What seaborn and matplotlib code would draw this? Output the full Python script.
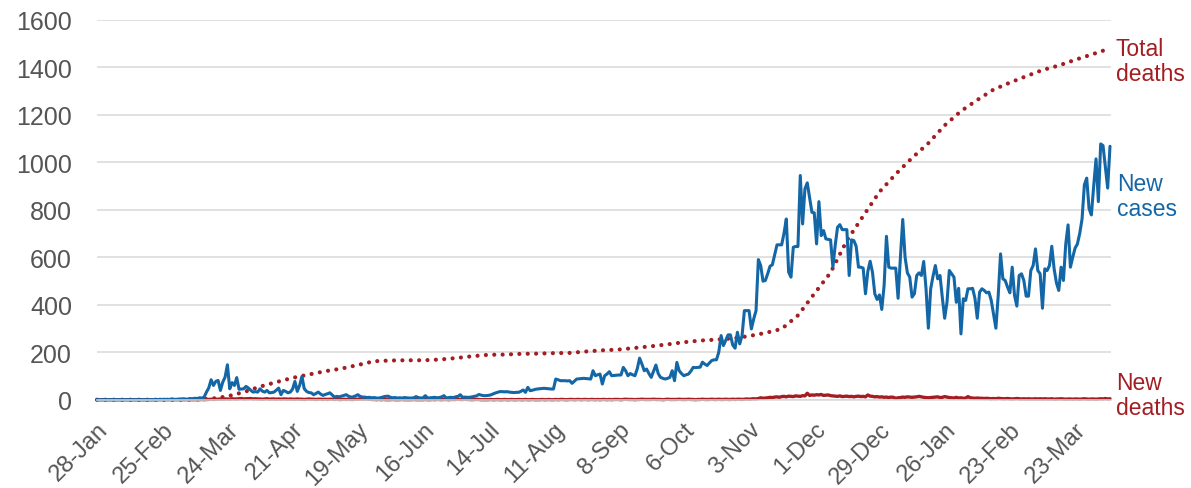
import pandas as pd
import matplotlib
matplotlib.use("Agg")
import matplotlib.pyplot as plt
import seaborn as sns

# daily new cases, from 28-Jan-2020 (14 values per row)
new_cases = [
    0, 0, 0, 0, 0, 0, 0, 0, 0, 0, 0, 0, 0, 0,
    0, 0, 0, 0, 0, 0, 0, 0, 0, 0, 0, 1, 0, 2,
    1, 0, 2, 1, 3, 2, 1, 3, 2, 4, 3, 2, 5, 4,
    6, 5, 8, 7, 11, 32, 50, 84, 60, 77, 81, 39, 74, 95,
    147, 46, 72, 60, 93, 44, 45, 46, 56, 49, 40, 32, 34, 32,
    46, 36, 32, 39, 29, 30, 32, 40, 49, 21, 39, 35, 29, 32,
    45, 77, 35, 60, 98, 46, 35, 30, 29, 21, 26, 32, 24, 18,
    22, 25, 29, 20, 11, 14, 12, 15, 18, 21, 15, 11, 12, 16,
    21, 14, 11, 11, 9, 10, 8, 9, 7, 7, 9, 12, 14, 15,
    10, 8, 9, 7, 8, 7, 9, 8, 7, 7, 8, 13, 9, 7,
    8, 17, 7, 8, 9, 10, 8, 9, 12, 17, 7, 9, 10, 9,
    12, 14, 21, 10, 11, 10, 10, 12, 14, 16, 22, 19, 17, 17,
    18, 20, 24, 28, 31, 34, 34, 33, 34, 32, 31, 30, 31, 31,
    35, 41, 31, 52, 38, 40, 43, 45, 46, 47, 48, 47, 46, 45,
    45, 87, 84, 80, 80, 80, 79, 80, 69, 78, 87, 88, 89, 90,
    89, 88, 87, 122, 101, 105, 108, 66, 101, 108, 118, 101, 102, 103,
    104, 104, 136, 122, 101, 110, 105, 101, 130, 175, 150, 122, 129, 110,
    94, 120, 146, 110, 94, 90, 87, 90, 94, 122, 80, 157, 122, 110,
    101, 105, 108, 120, 136, 135, 136, 137, 158, 150, 144, 155, 165, 168,
    168, 200, 270, 228, 250, 273, 273, 230, 217, 284, 235, 270, 375, 375,
    375, 298, 340, 375, 590, 565, 499, 502, 530, 562, 568, 610, 652, 652,
    652, 700, 761, 537, 516, 642, 645, 645, 944, 740, 888, 913, 850, 789,
    787, 656, 834, 691, 712, 677, 675, 673, 558, 650, 726, 737, 716, 716,
    716, 523, 673, 670, 646, 558, 558, 554, 446, 540, 583, 537, 446, 422,
    441, 380, 481, 688, 558, 554, 554, 554, 427, 600, 759, 600, 534, 516,
    432, 446, 523, 534, 523, 582, 467, 301, 467, 520, 565, 509, 523, 430,
    343, 410, 544, 530, 516, 410, 469, 277, 425, 418, 467, 467, 469, 427,
    343, 453, 467, 460, 450, 453, 418, 360, 301, 439, 614, 509, 502, 474,
    450, 558, 439, 394, 523, 530, 502, 436, 436, 544, 565, 635, 544, 530,
    385, 551, 544, 565, 646, 551, 492, 460, 558, 502, 656, 736, 558, 600,
    638, 656, 700, 761, 905, 933, 805, 778, 900, 1014, 834, 1077, 1070, 980,
    891, 1067,
]

# daily new deaths, same dates
new_deaths = [
    0, 0, 0, 0, 0, 0, 0, 0, 0, 0, 0, 0, 0, 0,
    0, 0, 0, 0, 0, 0, 0, 0, 0, 0, 0, 0, 0, 0,
    0, 0, 0, 0, 0, 0, 0, 0, 0, 0, 0, 0, 0, 0,
    0, 0, 0, 1, 0, 1, 1, 2, 1, 2, 2, 3, 2, 3,
    3, 2, 4, 3, 3, 4, 5, 3, 4, 4, 5, 3, 4, 3,
    3, 2, 3, 4, 2, 3, 3, 2, 3, 2, 3, 3, 2, 3,
    2, 2, 3, 2, 2, 1, 2, 3, 2, 2, 1, 2, 2, 1,
    2, 1, 2, 2, 1, 2, 1, 1, 2, 1, 2, 1, 1, 2,
    2, 3, 2, 3, 2, 2, 1, 1, 0, 1, 0, 1, 0, 0,
    0, 1, 0, 0, 0, 1, 0, 0, 0, 0, 1, 0, 0, 0,
    0, 1, 0, 0, 1, 0, 1, 1, 0, 1, 1, 0, 1, 1,
    1, 2, 1, 1, 2, 1, 1, 0, 1, 1, 1, 0, 0, 0,
    0, 1, 0, 0, 1, 0, 0, 1, 0, 0, 1, 0, 0, 1,
    0, 0, 1, 0, 0, 1, 0, 0, 0, 1, 0, 0, 1, 0,
    0, 1, 0, 1, 1, 0, 0, 1, 1, 0, 1, 1, 0, 1,
    1, 0, 1, 1, 0, 1, 0, 1, 1, 0, 1, 0, 1, 1,
    1, 0, 1, 2, 1, 1, 1, 0, 1, 1, 2, 1, 1, 1,
    1, 2, 1, 1, 1, 0, 1, 2, 1, 1, 1, 1, 2, 1,
    1, 1, 2, 1, 1, 0, 1, 1, 2, 1, 1, 1, 2, 1,
    1, 2, 1, 1, 2, 1, 1, 2, 1, 2, 2, 1, 2, 3,
    2, 3, 4, 3, 5, 8, 6, 7, 8, 10, 9, 11, 12, 10,
    13, 14, 12, 15, 14, 13, 16, 15, 14, 17, 16, 27, 18, 20,
    19, 21, 20, 22, 18, 19, 20, 17, 16, 15, 14, 16, 13, 14,
    15, 13, 14, 12, 14, 15, 13, 14, 12, 20, 15, 14, 12, 13,
    11, 12, 10, 11, 9, 11, 10, 6, 8, 9, 11, 10, 12, 11,
    10, 11, 12, 14, 12, 10, 9, 8, 9, 10, 11, 12, 9, 10,
    13, 11, 9, 8, 7, 10, 7, 8, 6, 7, 13, 8, 7, 6,
    7, 6, 6, 5, 6, 5, 4, 5, 4, 6, 5, 4, 4, 5,
    4, 3, 4, 5, 4, 3, 4, 3, 4, 3, 3, 4, 3, 4,
    3, 4, 3, 3, 4, 2, 3, 3, 4, 3, 2, 3, 3, 2,
    3, 3, 2, 3, 4, 3, 2, 3, 3, 2, 3, 4, 3, 5,
    3, 4,
]

# cumulative deaths, weekly from 28-Jan-2020
total_deaths = [
    0, 0, 0, 0, 0, 0, 1, 4, 14, 32, 55, 74, 92, 106, 120, 131,
    146, 162, 165, 166, 166, 169, 175, 183, 189, 190, 193, 194, 196, 197,
    203, 208, 211, 218, 225, 233, 242, 249, 253, 258, 268, 281, 298, 355,
    446, 535, 670, 773, 875, 950, 1018, 1080, 1155, 1215, 1262, 1306, 1335,
    1362, 1388, 1407, 1431, 1453, 1476,
]

tick_labels = ['28-Jan', '25-Feb', '24-Mar', '21-Apr', '19-May', '16-Jun',
               '14-Jul', '11-Aug', '8-Sep', '6-Oct', '3-Nov', '1-Dec',
               '29-Dec', '26-Jan', '23-Feb', '23-Mar']

start = pd.Timestamp('2020-01-28')
daily = pd.DataFrame({
    'date': pd.date_range(start, periods=len(new_cases), freq='D'),
    'new_cases': new_cases,
    'new_deaths': new_deaths,
})
weekly = pd.DataFrame({
    'date': pd.date_range(start, periods=len(total_deaths), freq='7D'),
    'total_deaths': total_deaths,
})
tick_dates = pd.date_range(start, periods=len(tick_labels), freq='28D')

blue = '#1467a6'
red = '#a31d22'
grey = '#555555'

sns.set_style('white')
plt.rcParams['font.family'] = ['Liberation Sans', 'DejaVu Sans']

fig = plt.figure(figsize=(11.91, 4.89), dpi=100)
ax = fig.add_axes([97 / 1191, 1 - 400.7 / 489, (1110.7 - 97) / 1191, 380 / 489])

sns.lineplot(data=weekly, x='date', y='total_deaths', ax=ax, color=red,
             linewidth=3.0, linestyle=(0, (0.01, 2.0)), dash_capstyle='round',
             clip_on=False)
sns.lineplot(data=daily, x='date', y='new_deaths', ax=ax, color=red,
             linewidth=2.4, clip_on=False)
sns.lineplot(data=daily, x='date', y='new_cases', ax=ax, color=blue,
             linewidth=2.2, clip_on=False)

ax.set_xlim(start, start + pd.Timedelta(days=435.3))
ax.set_ylim(0, 1600)
ax.set_yticks(range(0, 1601, 200))
ax.set_xticks(tick_dates)
ax.set_xticklabels(tick_labels, rotation=45, ha='right', rotation_mode='anchor')
ax.set_xlabel('')
ax.set_ylabel('')

ax.grid(axis='y', color='#d9d9d9', linewidth=1.1)
ax.grid(axis='x', visible=False)
ax.set_axisbelow(True)
for side in ['top', 'right', 'left']:
    ax.spines[side].set_visible(False)
ax.spines['bottom'].set_color('#d9d9d9')
ax.spines['bottom'].set_linewidth(1.1)
ax.tick_params(axis='y', length=0, pad=18, labelsize=18, labelcolor=grey)
ax.tick_params(axis='x', length=5, width=1.1, color='#d9d9d9', pad=8,
               labelsize=17, labelcolor=grey)

# series labels at the right
label_font = dict(fontsize=16.5, ha='left', va='center', linespacing=1.15)
fig.text(1116 / 1191, 1 - 62 / 489, 'Total\ndeaths', color=red, **label_font)
fig.text(1117 / 1191, 1 - 197 / 489, 'New\ncases', color=blue, **label_font)
fig.text(1116 / 1191, 1 - 396 / 489, 'New\ndeaths', color=red, **label_font)

fig.savefig('out.png', dpi=100)
